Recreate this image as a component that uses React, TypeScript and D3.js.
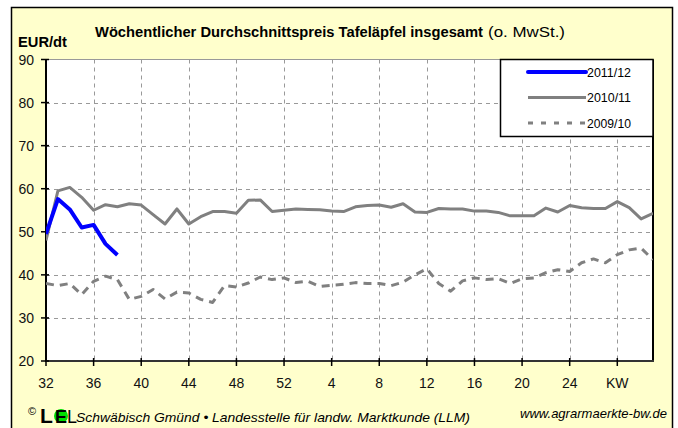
import React, { useEffect, useRef } from 'react';
import * as d3 from 'd3';

// calendar weeks 32..52, then 1..31 of the following year
const weeks: number[] = [...d3.range(32, 53), ...d3.range(1, 32)];
const tickWeeks = [32, 36, 40, 44, 48, 52, 4, 8, 12, 16, 20, 24];
const yTicks = [20, 30, 40, 50, 60, 70, 80, 90];

const s2011: number[] = [49.5, 57.6, 55.2, 51, 51.6, 47.2, 44.6];
const s2010: number[] = [
  48, 59.5, 60.3, 58, 55, 56.3, 55.8, 56.5, 56.2, 54, 51.8, 55.3, 51.8, 53.5, 54.7, 54.7,
  54.3, 57.3, 57.4, 54.7, 55, 55.3, 55.2, 55.1, 54.8, 54.7, 55.8, 56.1, 56.2, 55.7, 56.5, 54.6,
  54.5, 55.4, 55.3, 55.3, 54.8, 54.8, 54.5, 53.7, 53.7, 53.7, 55.5, 54.6, 56.1, 55.6, 55.4, 55.4,
  57, 55.6, 53, 54.3,
];
const s2009: number[] = [
  38, 37.5, 38, 35.4, 38.5, 39.7, 38.9, 34.3, 35, 36.6, 34.4, 36, 35.8, 34.3, 33.6, 37.5,
  37.2, 38.1, 39.5, 38.9, 39.3, 38.2, 38.5, 37.3, 37.6, 37.8, 38.2, 38, 38, 37.5, 38.3, 40,
  41.4, 38, 36.2, 38.6, 39.3, 38.9, 39.1, 38, 39.1, 39.3, 40.5, 41.2, 40.8, 42.8, 43.7, 42.8,
  44.7, 45.8, 46.2, 43.5,
];

const series = [
  { name: '2011/12', values: s2011, color: '#0000ff', width: 4, dash: null },
  { name: '2010/11', values: s2010, color: '#808080', width: 3, dash: null },
  { name: '2009/10', values: s2009, color: '#808080', width: 3, dash: '8,6' },
];

const W = 678;
const H = 428;
const font = 'Arial, "Liberation Sans", sans-serif';

export default function App() {
  const svgRef = useRef<SVGSVGElement>(null);

  useEffect(() => {
    if (!svgRef.current) return;
    const svg = d3.select(svgRef.current);
    svg.selectAll('*').remove();

    const left = 46, right = 653, top = 59.5, bottom = 361;

    // outer frame
    svg.append('rect')
      .attr('x', 11.5).attr('y', 7.5).attr('width', 661).attr('height', 440)
      .attr('fill', '#ffffcc').attr('stroke', '#000').attr('stroke-width', 1.5);

    const x = d3.scaleLinear().domain([0, weeks.length - 1]).range([left, right]);
    const y = d3.scaleLinear().domain([20, 90]).range([bottom, top]);

    // plot area
    svg.append('rect')
      .attr('x', left).attr('y', top).attr('width', right - left).attr('height', bottom - top)
      .attr('fill', '#fff');

    // grid
    const g = svg.append('g');
    g.selectAll('line.hg')
      .data(yTicks.filter(v => v > 20 && v < 90))
      .enter().append('line')
      .attr('x1', left).attr('x2', right)
      .attr('y1', d => Math.round(y(d)) + 0.5).attr('y2', d => Math.round(y(d)) + 0.5)
      .attr('stroke', '#999').attr('stroke-dasharray', '4,4');
    const vTicks = [...tickWeeks.slice(1), 28];
    g.selectAll('line.vg')
      .data(vTicks)
      .enter().append('line')
      .attr('x1', d => Math.round(x(weeks.indexOf(d))) + 0.5)
      .attr('x2', d => Math.round(x(weeks.indexOf(d))) + 0.5)
      .attr('y1', top).attr('y2', bottom)
      .attr('stroke', '#999').attr('stroke-dasharray', '4,4');

    // plot border: gray top, black sides/bottom
    svg.append('line').attr('x1', left).attr('x2', right).attr('y1', top).attr('y2', top)
      .attr('stroke', '#999').attr('stroke-width', 1);
    svg.append('line').attr('x1', right).attr('x2', right).attr('y1', top).attr('y2', bottom)
      .attr('stroke', '#000').attr('stroke-width', 2);
    svg.append('line').attr('x1', left).attr('x2', left).attr('y1', top).attr('y2', bottom + 1)
      .attr('stroke', '#000').attr('stroke-width', 2);
    svg.append('line').attr('x1', left).attr('x2', right + 1).attr('y1', bottom).attr('y2', bottom)
      .attr('stroke', '#333').attr('stroke-width', 2);

    // y ticks + labels
    yTicks.forEach(v => {
      svg.append('line').attr('x1', left - 5).attr('x2', left + 3)
        .attr('y1', y(v)).attr('y2', y(v)).attr('stroke', '#000').attr('stroke-width', 1.5);
      svg.append('text').attr('x', 34).attr('y', y(v) + 5)
        .attr('text-anchor', 'end').attr('font-family', font).attr('font-size', 14)
        .attr('fill', '#111').text(v);
    });

    // x ticks + labels
    tickWeeks.forEach(w => {
      const px = x(weeks.indexOf(w));
      svg.append('line').attr('x1', px).attr('x2', px).attr('y1', bottom - 3).attr('y2', bottom + 5)
        .attr('stroke', '#000').attr('stroke-width', 1.5);
      svg.append('text').attr('x', px).attr('y', 388)
        .attr('text-anchor', 'middle').attr('font-family', font).attr('font-size', 14)
        .attr('fill', '#111').text(w);
    });
    const kwX = x(weeks.indexOf(28));
    svg.append('line').attr('x1', kwX).attr('x2', kwX).attr('y1', bottom - 3).attr('y2', bottom + 5)
      .attr('stroke', '#000').attr('stroke-width', 1.5);
    svg.append('text').attr('x', kwX).attr('y', 388)
      .attr('text-anchor', 'middle').attr('font-family', font).attr('font-size', 14)
      .attr('fill', '#111').text('KW');

    // lines
    const line = d3.line<number>().x((_, i) => x(i)).y(d => y(d));
    const clip = svg.append('clipPath').attr('id', 'plotclip');
    clip.append('rect').attr('x', left).attr('y', top).attr('width', right - left).attr('height', bottom - top);
    [...series].reverse().forEach(s => {
      svg.append('path').datum(s.values)
        .attr('d', line)
        .attr('clip-path', 'url(#plotclip)')
        .attr('fill', 'none').attr('stroke', s.color).attr('stroke-width', s.width)
        .attr('stroke-linejoin', 'round')
        .attr('stroke-dasharray', s.dash);
    });

    // legend
    const lg = svg.append('g');
    lg.append('rect').attr('x', 500.5).attr('y', top).attr('width', right - 500.5).attr('height', 77)
      .attr('fill', '#fff').attr('stroke', '#000').attr('stroke-width', 1.5);
    series.forEach((s, i) => {
      const ly = 72 + i * 25.5;
      lg.append('line').attr('x1', 528).attr('x2', 586).attr('y1', ly).attr('y2', ly)
        .attr('stroke', s.color).attr('stroke-width', s.width)
        .attr('stroke-linecap', i === 0 ? 'round' : 'butt')
        .attr('stroke-dasharray', s.dash ? '5,8' : null);
      lg.append('text').attr('x', 587).attr('y', ly + 4.5)
        .attr('font-family', font).attr('font-size', 12).attr('fill', '#000')
        .attr('textLength', 44).attr('lengthAdjust', 'spacingAndGlyphs').text(s.name);
    });

    // titles
    svg.append('text').attr('x', 18).attr('y', 47).attr('font-family', font)
      .attr('font-size', 14).attr('font-weight', 'bold').attr('textLength', 49)
      .attr('lengthAdjust', 'spacingAndGlyphs').text('EUR/dt');
    svg.append('text').attr('x', 95).attr('y', 37).attr('font-family', font)
      .attr('font-size', 15).attr('font-weight', 'bold').attr('textLength', 388)
      .attr('lengthAdjust', 'spacingAndGlyphs')
      .text('Wöchentlicher Durchschnittspreis Tafeläpfel insgesamt');
    svg.append('text').attr('x', 488).attr('y', 37).attr('font-family', font)
      .attr('font-size', 15).attr('textLength', 77).attr('lengthAdjust', 'spacingAndGlyphs')
      .text('(o. MwSt.)');

    // footer
    svg.append('text').attr('x', 28).attr('y', 415).attr('font-family', font)
      .attr('font-size', 11).text('©');
    svg.append('text').attr('x', 40).attr('y', 423).attr('font-family', font)
      .attr('font-size', 21).attr('font-weight', 'bold').text('L');
    svg.append('circle').attr('cx', 61).attr('cy', 416).attr('r', 7).attr('fill', '#00dd00');
    svg.append('text').attr('x', 55).attr('y', 423).attr('font-family', font)
      .attr('font-size', 18).attr('font-weight', 'bold').text('E');
    svg.append('text').attr('x', 67).attr('y', 423).attr('font-family', font)
      .attr('font-size', 18).text('L');
    svg.append('text').attr('x', 76).attr('y', 422).attr('font-family', font)
      .attr('font-size', 13).attr('font-style', 'italic').attr('textLength', 394)
      .attr('lengthAdjust', 'spacingAndGlyphs')
      .text('Schwäbisch Gmünd  •  Landesstelle für landw. Marktkunde (LLM)');
    svg.append('text').attr('x', 520).attr('y', 418).attr('font-family', font)
      .attr('font-size', 13).attr('font-style', 'italic').attr('textLength', 147)
      .attr('lengthAdjust', 'spacingAndGlyphs')
      .text('www.agrarmaerkte-bw.de');
  }, []);

  return (
    <div style={{ position: 'absolute', left: 0, top: 0 }}>
      <svg ref={svgRef} width={W} height={H} style={{ display: 'block' }}></svg>
    </div>
  );
}
